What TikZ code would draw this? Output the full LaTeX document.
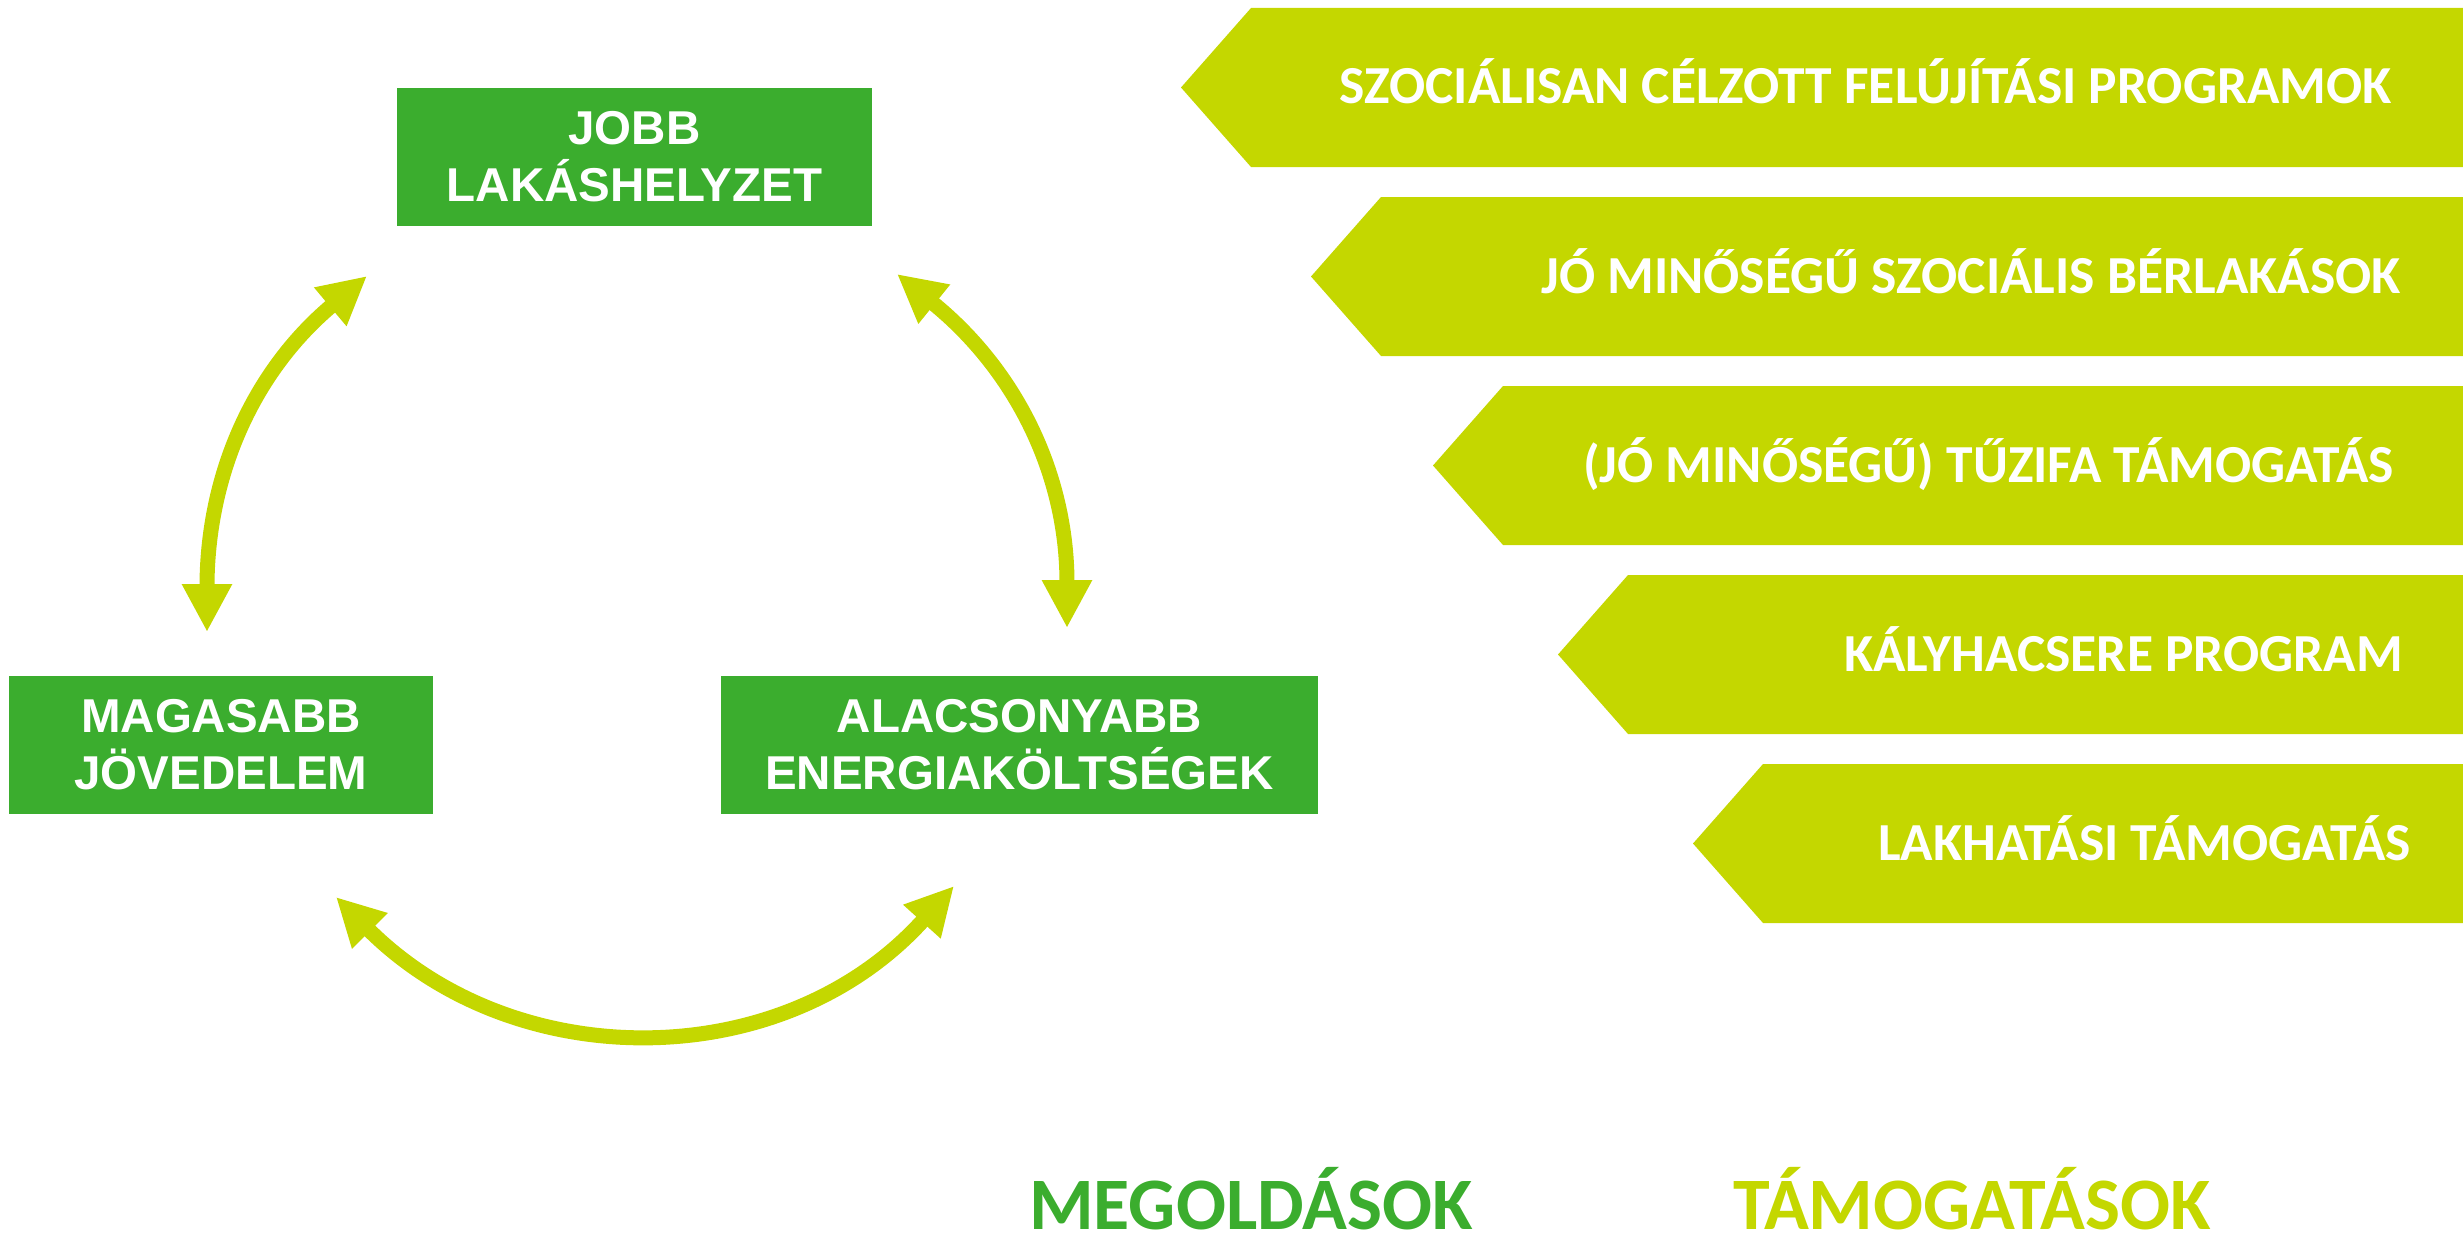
\documentclass[tikz,border=0pt]{standalone}
\usepackage{fontspec}
\setmainfont{Liberation Sans}
\newfontfamily\calibrifont{Carlito}
\usetikzlibrary{arrows.meta}
\definecolor{boxgreen}{RGB}{59,173,46}
\definecolor{supportlime}{RGB}{196,215,0}

\begin{document}
\begin{tikzpicture}[x=1pt,y=1pt,
    goal/.style={fill=boxgreen, text=white, align=center, inner sep=0,
      minimum height=138pt, font=\bfseries\fontsize{47.5}{57}\selectfont},
    loopArrow/.style={draw=supportlime, line width=15pt,
      {Triangle[length=48pt,width=47pt]}-{Triangle[length=48pt,width=47pt]}},
    support/.style={anchor=base east, inner sep=0, text=white,
      font=\calibrifont\bfseries\fontsize{53.5}{60}\selectfont},
    heading/.style={anchor=base west, inner sep=0,
      font=\calibrifont\bfseries\fontsize{74}{80}\selectfont}]
    \useasboundingbox (0,0) rectangle (2463,-1236);
    % the three goals
    \node[goal, minimum width=475pt] (jobb) at (634.5,-157) {JOBB\\LAKÁSHELYZET};
    \node[goal, minimum width=424pt] (magas) at (221,-745) {MAGASABB\\JÖVEDELEM};
    \node[goal, minimum width=597pt] (alacs) at (1019.5,-745) {ALACSONYABB\\ENERGIAKÖLTSÉGEK};
    % ends of the arrows between them
    \coordinate (lt) at (367,-276);
    \coordinate (lb) at (207,-632);
    \coordinate (rt) at (897,-274);
    \coordinate (rb) at (1067,-628);
    \coordinate (bl) at (336,-897);
    \coordinate (br) at (954,-886);
    \draw[loopArrow] (lb) to[out=90,in=220] (lt);
    \draw[loopArrow] (rt) to[out=-39,in=90] (rb);
    \draw[loopArrow] (bl) to[out=-45,in=228,looseness=1.05] (br);
    % supports on the right
    \foreach \px/\ty/\txt/\tx [count=\n] in {
        1181/8/{SZOCIÁLISAN CÉLZOTT FELÚJÍTÁSI PROGRAMOK}/2392,
        1311/197/{JÓ MINŐSÉGŰ SZOCIÁLIS BÉRLAKÁSOK}/2401,
        1433/386/{(JÓ MINŐSÉGŰ) TŰZIFA TÁMOGATÁS}/2394,
        1558/575/{KÁLYHACSERE PROGRAM}/2403,
        1693/764/{LAKHATÁSI TÁMOGATÁS}/2411}{
      \fill[supportlime] (\px,-\ty-79.5) -- (\px+70,-\ty) -- (2463,-\ty)
        -- (2463,-\ty-159) -- (\px+70,-\ty-159) -- cycle;
      \node[support] (tam\n) at (\tx,-\ty-96) {\txt};
    }
    \node[heading, text=boxgreen] (megold) at (1029,-1229) {MEGOLDÁSOK};
    \node[heading, text=supportlime] (tamog) at (1733,-1229) {TÁMOGATÁSOK};
\end{tikzpicture}
\end{document}
